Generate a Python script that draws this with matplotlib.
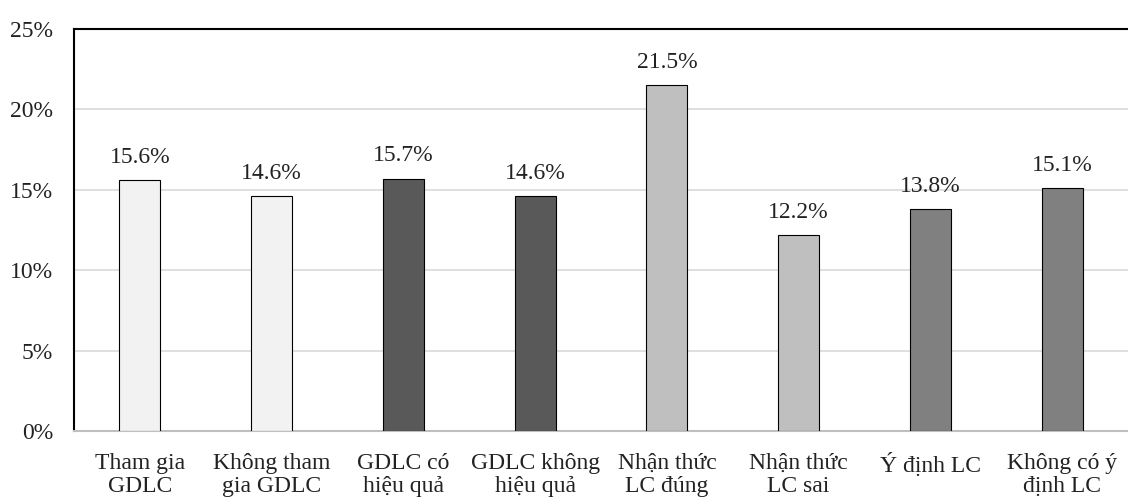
import matplotlib
matplotlib.use("Agg")
from matplotlib import pyplot as plt
import numpy as np

plt.rcParams['font.family'] = ['Liberation Serif', 'DejaVu Serif']

nhom = ["Tham gia\nGDLC", "Không tham\ngia GDLC", "GDLC có\nhiệu quả", "GDLC không\nhiệu quả",
        "Nhận thức\nLC đúng", "Nhận thức\nLC sai", "Ý định LC", "Không có ý\nđịnh LC"]
ty_le = [15.6, 14.6, 15.7, 14.6, 21.5, 12.2, 13.8, 15.1]
mau = ["#f2f2f2", "#f2f2f2", "#595959", "#595959", "#bfbfbf", "#bfbfbf", "#808080", "#808080"]

fig = plt.figure(figsize=(11.28, 4.98), dpi=100)
ax = fig.add_axes([74/1128, 1-431/498, 1-74/1128, (431-29)/498])

x = np.arange(len(nhom))
ax.bar(x, ty_le, width=0.31, color=mau, edgecolor="black", linewidth=0.8, zorder=3)
for xi, v in zip(x, ty_le):
    ax.text(xi, v + 0.75, "%.1f%%" % v, ha="center", va="bottom", fontsize=17, color="#222222")

ax.set_xlim(-0.5, 7.5)
ax.set_ylim(0, 25)
ax.set_yticks([0, 5, 10, 15, 20, 25])
ax.set_yticklabels(["0%", "5%", "10%", "15%", "20%", "25%"])
ax.set_xticks(x)
ax.set_xticklabels(nhom, linespacing=1.12)
ax.tick_params(axis="both", length=0, labelsize=17, colors="#222222")
ax.tick_params(axis="x", pad=16)
ax.tick_params(axis="y", pad=15)
ax.grid(axis="y", color="#d9d9d9", linewidth=1.2, zorder=0)

ax.spines["right"].set_visible(False)
ax.spines["left"].set_color("black")
ax.spines["left"].set_linewidth(1.5)
ax.spines["top"].set_color("black")
ax.spines["top"].set_linewidth(1.5)
ax.spines["bottom"].set_color("#bfbfbf")
ax.spines["bottom"].set_linewidth(1.5)

plt.savefig("out.png", dpi=100)
